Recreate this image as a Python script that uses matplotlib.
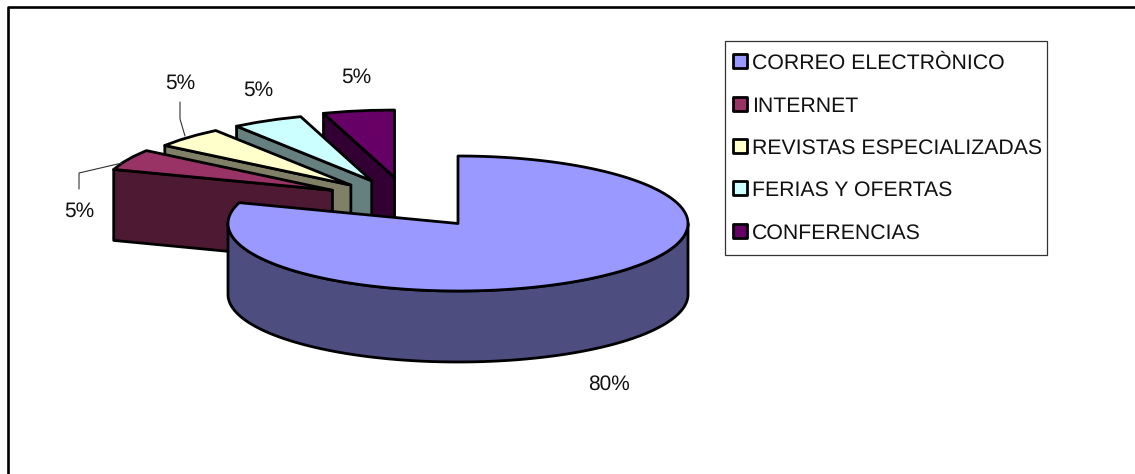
import numpy as np
import matplotlib
matplotlib.use("Agg")
import matplotlib.pyplot as plt
from matplotlib.patches import Polygon, Rectangle

# Survey shares, in percent, listed clockwise from twelve o'clock
categories = ["CORREO ELECTRÒNICO", "INTERNET", "REVISTAS ESPECIALIZADAS",
              "FERIAS Y OFERTAS", "CONFERENCIAS"]
shares = [80, 5, 5, 5, 5]
value_labels = ["80%", "5%", "5%", "5%", "5%"]

top_colors = ["#9999FF", "#993366", "#FFFFCC", "#CCFFFF", "#660066"]
wall_colors = ["#4D4D80", "#4D1933", "#808066", "#668080", "#330033"]

W, H = 1135, 474
CX, CY = 458, 223.5      # pie centre on the canvas
RX, RY = 230, 67.5       # tilted radii
DEPTH = 71               # height of the extruded wall
PULL = 0.735             # explosion distance, as a fraction of the radius

plt.rcParams["font.family"] = ["Liberation Sans", "DejaVu Sans"]
plt.rcParams["text.hinting"] = "no_hinting"
FS_LEGEND = 15.3
FS_VALUE = 15.0
EDGE = dict(edgecolor="black", linewidth=2.0, joinstyle="round")

fig = plt.figure(figsize=(W / 100, H / 100), dpi=100, facecolor="white")
ax = fig.add_axes([0, 0, 1, 1])
ax.set_xlim(0, W)
ax.set_ylim(H, 0)
ax.axis("off")


def rim(a_deg, ox=0.0, oy=0.0):
    a = np.radians(a_deg)
    return np.column_stack([CX + ox + RX * np.cos(a), CY + oy - RY * np.sin(a)])


# Slice boundaries: angles decrease clockwise from 90 degrees
edges = 90 - np.cumsum([0] + shares) * 360 / sum(shares)
starts, ends = edges[:-1], edges[1:]

# Small wedges are pulled out together, fanning less than their bisectors
offsets = [(0.0, 0.0)]
for s, e in zip(starts[1:], ends[1:]):
    mid = (s + e) / 2 % 360
    d = np.radians(125 + 0.48 * (mid - 126))
    offsets.append((PULL * RX * np.cos(d), -PULL * RY * np.sin(d)))

# Exploded wedges, back to front; their short arcs are coarse polylines
for i in range(len(shares) - 1, 0, -1):
    ox, oy = offsets[i]
    a0, a1 = starts[i] % 360, ends[i] % 360
    near = rim(np.array([a0]), ox, oy)[0]
    apex = np.array([CX + ox, CY + oy])
    wall = [near, apex, apex + [0, DEPTH], near + [0, DEPTH]]
    ax.add_patch(Polygon(wall, closed=True, facecolor=wall_colors[i], **EDGE))
    arc = rim(np.linspace(a0, a1, 4), ox, oy)
    ax.add_patch(Polygon(np.vstack([apex, arc]), closed=True,
                         facecolor=top_colors[i], **EDGE))

# Large wedge: front wall first, then the top face
front = rim(np.linspace(180, 360, 120))
ax.add_patch(Polygon(np.vstack([front, (front + [0, DEPTH])[::-1]]), closed=True,
                     facecolor=wall_colors[0], **EDGE))
arc = rim(np.linspace(starts[0], ends[0], 300))
ax.add_patch(Polygon(np.vstack([[CX, CY], arc]), closed=True,
                     facecolor=top_colors[0], **EDGE))

# Leader lines for the two left-hand labels
leader = dict(color="#333333", linewidth=0.8, solid_capstyle="round")
ax.plot([79, 79, 122], [189, 173, 163], zorder=1, **leader)
ax.plot([180, 180, 185], [102, 119, 136], zorder=1, **leader)

# Value labels, placed by baseline
label_xy = [(609, 390), (79, 217), (180, 89), (258, 96), (356, 83)]
for (x, y), t in zip(label_xy, value_labels):
    ax.text(x, y, t, fontsize=FS_VALUE, color="#111111", ha="center", va="baseline")

# Chart frame: only the top and left edges fall inside the canvas
ax.plot([8, 8, W + 5], [H + 5, 7, 7], color="black", linewidth=1.9)

# Legend
ax.add_patch(Rectangle((724.5, 40.5), 322, 214, facecolor="white",
                       edgecolor="#333333", linewidth=0.9))
swatch_y = [61, 104, 146, 188, 231]
baseline_y = [69, 112, 154, 196, 239]
for ys, yb, name, c in zip(swatch_y, baseline_y, categories, top_colors):
    ax.add_patch(Rectangle((733, ys - 7), 14, 14, facecolor=c, **EDGE))
    ax.text(752, yb, name, fontsize=FS_LEGEND, color="#111111", ha="left", va="baseline")

fig.savefig("out.png", dpi=100, facecolor="white")
